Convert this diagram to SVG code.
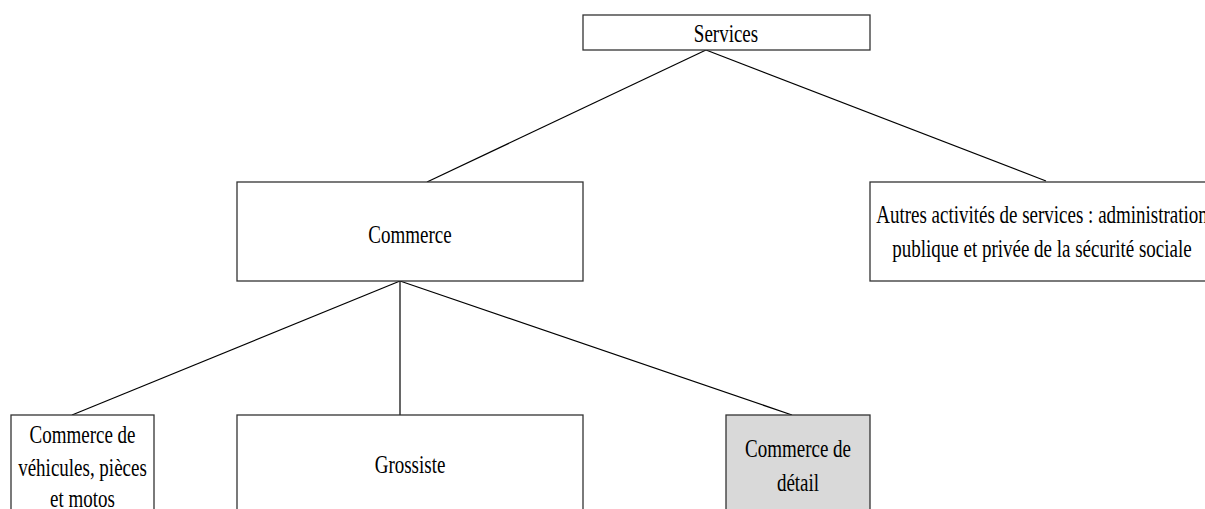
<svg xmlns="http://www.w3.org/2000/svg" width="1205" height="509" viewBox="0 0 1205 509">
<style>
.box{fill:#fff;stroke:#333;stroke-width:1.3}
.grey{fill:#d9d9d9}
.t{font-family:"Liberation Serif","Times New Roman",serif;font-size:19px;fill:#000;text-anchor:middle}
.c{stroke:#000;stroke-width:1.2;fill:none}
</style>
<rect width="1205" height="509" fill="#fff"/>
<g id="connectors">
<line class="c" x1="706" y1="50" x2="427" y2="182"/>
<line class="c" x1="706" y1="50" x2="1046" y2="181"/>
<line class="c" x1="400" y1="281" x2="72" y2="415"/>
<line class="c" x1="400" y1="281" x2="400" y2="415"/>
<line class="c" x1="400" y1="281" x2="792" y2="415"/>
</g>
<g id="services">
<rect class="box" x="583" y="15" width="287" height="35"/>
<text class="t" transform="translate(726,42) scale(1,1.3)">Services</text>
</g>
<g id="commerce">
<rect class="box" x="237" y="182" width="346" height="99"/>
<text class="t" transform="translate(410,243) scale(1,1.3)">Commerce</text>
</g>
<g id="autres">
<rect class="box" x="870" y="182" width="345" height="99"/>
<text class="t" transform="translate(1042,223) scale(1,1.3)">Autres activités de services : administration</text>
<text class="t" transform="translate(1042,257) scale(1,1.3)">publique et privée de la sécurité sociale</text>
</g>
<g id="vehicules">
<rect class="box" x="11" y="415" width="143" height="110"/>
<text class="t" transform="translate(82.5,443) scale(1,1.3)">Commerce de</text>
<text class="t" transform="translate(82.5,476) scale(1,1.3)">véhicules, pièces</text>
<text class="t" transform="translate(82.5,507) scale(1,1.3)">et motos</text>
</g>
<g id="grossiste">
<rect class="box" x="237" y="415" width="346" height="110"/>
<text class="t" transform="translate(410,473) scale(1,1.3)">Grossiste</text>
</g>
<g id="detail">
<rect class="box grey" x="726" y="415" width="144" height="110"/>
<text class="t" transform="translate(798,457) scale(1,1.3)">Commerce de</text>
<text class="t" transform="translate(798,491) scale(1,1.3)">détail</text>
</g>
</svg>
